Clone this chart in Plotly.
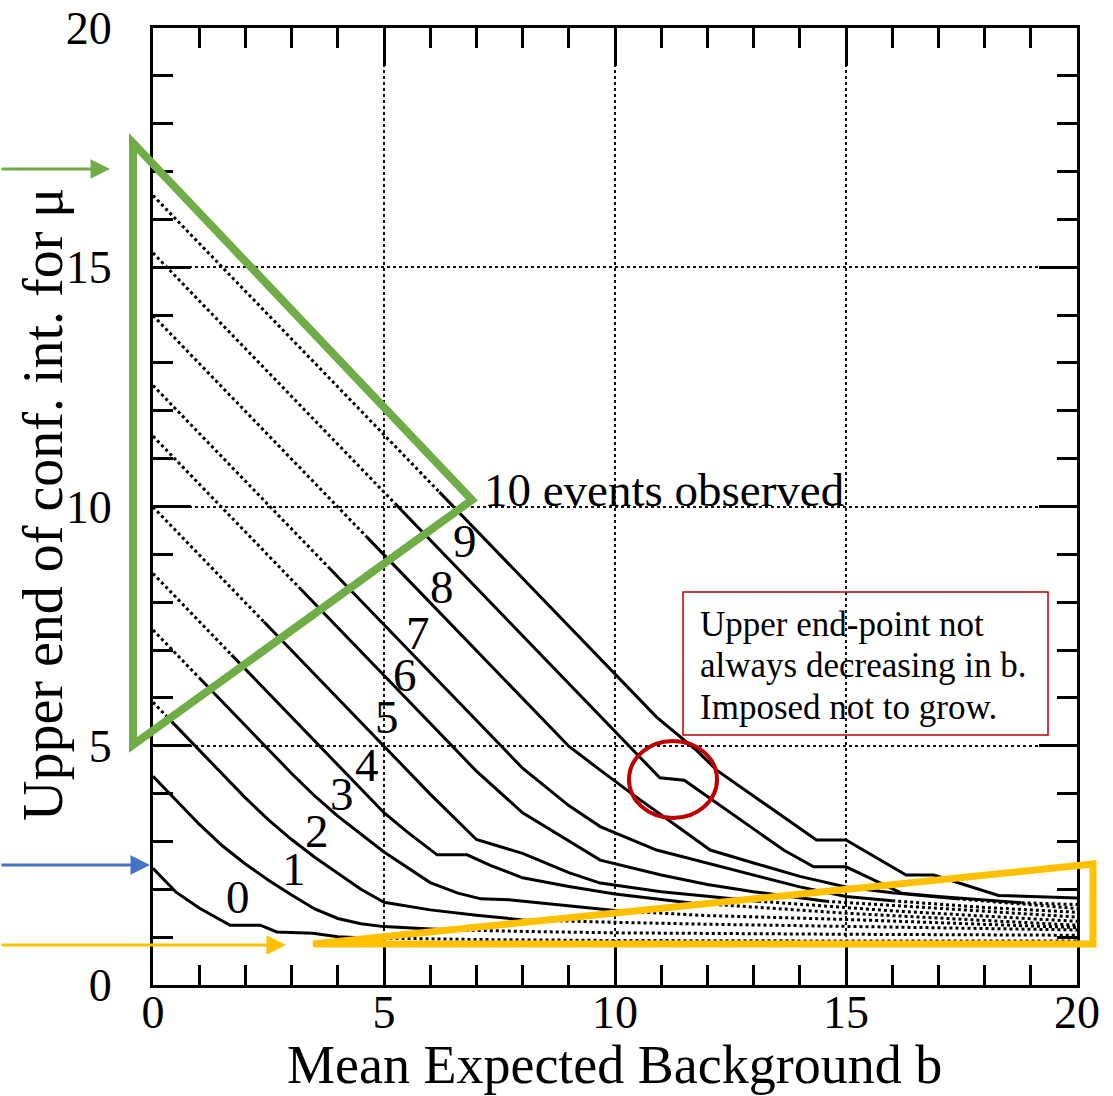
import plotly.graph_objects as go

# ---------------- data ----------------
n_obs = [0, 1, 2, 3, 4, 5, 6, 7, 8, 9, 10]

# dotted part in the upper left (lower end of interval > 0)
left_b = [
    [], [], [0, 0.4], [0, 1.0], [0, 1.7], [0, 2.4], [0, 3.2], [0, 3.83],
    [0, 4.62], [0, 5.24], [0, 6.2],
]
left_mu = [
    [], [], [5.91, 5.51], [7.42, 6.42], [8.6, 6.9], [9.99, 7.59], [11.47, 8.27],
    [12.53, 8.70], [13.99, 9.37], [15.3, 10.06], [16.5, 10.3],
]

# solid part of each curve
solid_b = [
    [0, 0.5, 1.0, 1.5, 1.67, 2.32, 2.68, 3.46, 4.0, 4.6],
    [0, 0.5, 1, 1.5, 2, 2.5, 3, 3.5, 4, 4.5, 5, 6, 6.64],
    [0.4, 1, 1.5, 2, 2.5, 3, 3.5, 4, 4.5, 5, 6, 7, 8, 8.41],
    [1.0, 1.5, 2, 2.5, 3, 3.5, 4, 5, 6, 6.6, 7.1, 7.7, 8, 9, 10.05],
    [1.7, 2, 2.5, 3, 3.5, 4, 5, 5.5, 6.15, 6.8, 7.3, 8, 9, 10, 11.6],
    [2.4, 6, 7, 8, 9, 9.68, 11, 12, 13.1],
    [3.2, 7, 8, 9, 9.68, 11, 12, 13, 14.57],
    [3.83, 8.0, 9.0, 9.68, 10.9, 12, 13, 14, 15, 16],
    [4.62, 9.0, 9.68, 10.5, 11.3, 12.06, 13, 14, 15, 16, 17.4],
    [5.24, 10.97, 11.5, 12.2, 13.65, 14.3, 15.0, 16.2, 17.0, 18.8],
    [6.2, 10.9, 11.76, 12.2, 14.36, 15.0, 16.3, 16.9, 18.3, 20],
]
solid_mu = [
    [2.44, 1.94, 1.61, 1.33, 1.25, 1.25, 1.11, 1.08, 1.01, 0.98],
    [4.36, 3.86, 3.36, 2.91, 2.53, 2.19, 1.88, 1.59, 1.39, 1.28, 1.22, 1.17, 1.15],
    [5.51, 4.91, 4.41, 3.91, 3.45, 3.04, 2.67, 2.33, 2.0, 1.73, 1.57, 1.46, 1.36, 1.35],
    [6.42, 5.92, 5.42, 4.92, 4.42, 3.95, 3.53, 2.78, 2.14, 1.92, 1.8, 1.78, 1.75, 1.65, 1.55],
    [6.9, 6.6, 6.1, 5.6, 5.1, 4.6, 3.6, 3.2, 2.72, 2.72, 2.5, 2.24, 2.06, 1.9, 1.72],
    [7.59, 3.99, 3.04, 2.75, 2.35, 2.13, 1.95, 1.85, 1.75],
    [8.27, 4.47, 3.6, 3.0, 2.61, 2.3, 2.1, 1.95, 1.75],
    [8.70, 4.53, 3.75, 3.31, 2.82, 2.55, 2.3, 2.05, 1.85, 1.76],
    [9.37, 4.99, 4.49, 3.9, 3.35, 2.82, 2.55, 2.27, 2.05, 1.93, 1.8],
    [10.06, 4.33, 4.28, 3.8, 2.82, 2.47, 2.47, 1.92, 1.85, 1.72],
    [10.3, 5.6, 4.91, 4.49, 3.03, 3.03, 2.3, 2.3, 1.87, 1.82],
]

# dotted part in the lower right (observation very unlikely)
right_b = [
    [4.6, 5, 7, 10, 15, 20], [6.64, 7, 8, 10, 13, 15, 20], [8.41, 9, 10, 12, 15, 20],
    [10.05, 12, 15, 20], [11.6, 15, 20], [13.1, 16, 20], [14.57, 17, 20],
    [16, 18, 20], [17.4, 20], [18.8, 20], [],
]
right_mu = [
    [0.98, 0.98, 0.95, 0.93, 0.92, 0.92], [1.15, 1.14, 1.12, 1.09, 1.07, 1.06, 1.04],
    [1.35, 1.34, 1.31, 1.27, 1.22, 1.15], [1.55, 1.45, 1.37, 1.2], [1.72, 1.5, 1.25],
    [1.75, 1.55, 1.33], [1.75, 1.6, 1.42], [1.76, 1.62, 1.52], [1.8, 1.6], [1.72, 1.68], [],
]

curve_label_text = ["0", "1", "2", "3", "4", "5", "6", "7", "8", "9"]
curve_label_b = [1.85, 3.05, 3.55, 4.09, 4.63, 5.07, 5.45, 5.73, 6.26, 6.75]
curve_label_mu = [1.84, 2.43, 3.22, 3.99, 4.6, 5.6, 6.48, 7.36, 8.32, 9.28]

x_ticks = [0, 5, 10, 15, 20]
y_ticks = [0, 5, 10, 15, 20]

note_lines = ["Upper end-point not", "always decreasing in b.", "Imposed not to grow."]

# ---------------- geometry helpers (pixel -> paper) ----------------
L, R, T, B = 153, 1077, 28, 985
W, H = 1113, 1096


def px(p):
    return (p - L) / (R - L)


def py(p):
    return (B - p) / (B - T)


SERIF = "Liberation Serif"
fig = go.Figure()

for n in n_obs:
    if left_b[n]:
        fig.add_trace(go.Scatter(x=left_b[n], y=left_mu[n], mode="lines",
                                 line=dict(color="black", width=3, dash="dot"),
                                 hoverinfo="skip"))
    fig.add_trace(go.Scatter(x=solid_b[n], y=solid_mu[n], mode="lines",
                             line=dict(color="black", width=3),
                             name=f"n={n}"))
    if right_b[n]:
        fig.add_trace(go.Scatter(x=right_b[n], y=right_mu[n], mode="lines",
                                 line=dict(color="black", width=3, dash="dot"),
                                 hoverinfo="skip"))

axis_common = dict(
    range=[0, 20], showline=True, linecolor="black", linewidth=3,
    mirror="allticks", ticks="inside", ticklen=38, tickwidth=3,
    tickcolor="black", tickmode="array", showgrid=True, gridcolor="#111111",
    gridwidth=2, griddash="dot", zeroline=False, automargin=False,
    minor=dict(ticks="inside", ticklen=20, tickwidth=3, tickcolor="black",
               dtick=1, showgrid=False),
    tickfont=dict(family=SERIF, size=46, color="black"),
)
fig.update_xaxes(**axis_common, tickvals=x_ticks, ticktext=[str(v) for v in x_ticks],
                 ticklabelstandoff=-15)
fig.update_yaxes(**axis_common, tickvals=y_ticks, ticktext=[str(v) for v in y_ticks],
                 ticklabelstandoff=29)

annotations = []
# axis titles
annotations.append(dict(text="Mean Expected Background b", x=px(614), y=py(1065),
                        xref="paper", yref="paper", showarrow=False,
                        font=dict(family=SERIF, size=54, color="black"),
                        xanchor="center", yanchor="middle"))
annotations.append(dict(text="Upper end of conf. int. for μ", x=px(43), y=py(505),
                        xref="paper", yref="paper", showarrow=False, textangle=-90,
                        font=dict(family=SERIF, size=56, color="black"),
                        xanchor="center", yanchor="middle"))
# curve labels
for t, xb, ym in zip(curve_label_text, curve_label_b, curve_label_mu):
    annotations.append(dict(text=t, x=xb, y=ym, xref="x", yref="y", showarrow=False,
                            font=dict(family=SERIF, size=47, color="black"),
                            xanchor="center", yanchor="middle"))
annotations.append(dict(text="10 events observed", x=(482 - L) / 46.2, y=(B - 490) / 47.85,
                        xref="x", yref="y", showarrow=False,
                        font=dict(family=SERIF, size=47, color="black"),
                        xanchor="left", yanchor="middle"))
# note text
for i, line in enumerate(note_lines):
    annotations.append(dict(text=line, x=px(698), y=py(624 + 41.5 * i),
                            xref="paper", yref="paper", showarrow=False,
                            font=dict(family=SERIF, size=35, color="black"),
                            xanchor="left", yanchor="middle"))
# arrows
for (tipx, tipy, col) in [(110, 169, "#70AD47"), (150, 865, "#4472C4"), (286, 945, "#FFC000")]:
    annotations.append(dict(text="", x=px(tipx), y=py(tipy), xref="paper", yref="paper",
                            showarrow=True, ax=-tipx, ay=0, arrowhead=2, arrowsize=1.3,
                            arrowwidth=3, arrowcolor=col))
fig.update_layout(annotations=annotations)

shapes = []
# note box
shapes.append(dict(type="rect", xref="paper", yref="paper", x0=px(683), x1=px(1048),
                   y0=py(735), y1=py(592), line=dict(color="#C00000", width=1.5)))
# red circle
shapes.append(dict(type="circle", xref="paper", yref="paper", x0=px(629), x1=px(717),
                   y0=py(818), y1=py(741), line=dict(color="#C00000", width=4)))
# green triangle
gpath = f"M {px(133)},{py(143)} L {px(472)},{py(500)} L {px(133)},{py(745)} Z"
shapes.append(dict(type="path", xref="paper", yref="paper", path=gpath,
                   line=dict(color="#70AD47", width=8)))
# yellow wedge
ypath = f"M {px(313)},{py(944)} L {px(1093)},{py(864)} L {px(1093)},{py(944)} Z"
shapes.append(dict(type="path", xref="paper", yref="paper", path=ypath,
                   line=dict(color="#FFC000", width=7)))
fig.update_layout(shapes=shapes)

fig.update_layout(width=W, height=H, margin=dict(l=L, r=W - R, t=T, b=H - B),
                  paper_bgcolor="white", plot_bgcolor="white", showlegend=False)

fig.write_html("out.html")
